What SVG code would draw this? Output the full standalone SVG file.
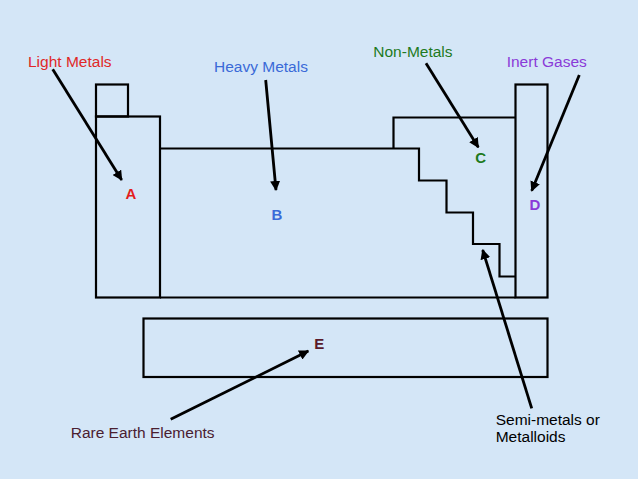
<svg xmlns="http://www.w3.org/2000/svg" width="638" height="479" viewBox="0 0 638 479">
<defs>
<marker id="ah" viewBox="0 0 10 10" refX="9" refY="5" markerWidth="3.6" markerHeight="3.6" orient="auto" markerUnits="strokeWidth">
<path d="M0,0 L10,5 L0,10 z" fill="#000"/>
</marker>
</defs>
<style>
.box{fill:none;stroke:#000;stroke-width:2.2}
.arr{stroke:#000;stroke-width:2.8;fill:none;marker-end:url(#ah)}
text{font-family:"Liberation Sans",Arial,sans-serif;font-size:15.5px}
.let{font-weight:bold;font-size:15px;text-anchor:middle}
</style>
<rect width="638" height="479" fill="#d4e6f7"/>
<g id="table">
<rect class="box" x="96" y="84.5" width="32" height="32"/>
<rect class="box" x="96" y="116.5" width="64" height="181"/>
<path class="box" d="M160,148.5 H419 V180.5 H446.5 V212.5 H473 V244 H499.5 V276.5 H515.5"/>
<path class="box" d="M393.5,148.5 V117.5 H515.5"/>
<rect class="box" x="515.5" y="84.5" width="32" height="213"/>
<line class="box" x1="160" y1="297.5" x2="515.5" y2="297.5"/>
</g>
<g id="lanthanides">
<rect class="box" x="143.5" y="318.5" width="404" height="58.5"/>
</g>
<g id="connectors">
<line class="arr" x1="52.7" y1="69.3" x2="121.7" y2="180"/>
<line class="arr" x1="265.7" y1="80" x2="276" y2="190"/>
<line class="arr" x1="426" y1="63.3" x2="478.3" y2="147.3"/>
<line class="arr" x1="579.3" y1="75" x2="531.7" y2="190.7"/>
<line class="arr" x1="531.7" y1="408.3" x2="482.7" y2="250"/>
<line class="arr" x1="170.7" y1="419.3" x2="308.3" y2="351"/>
</g>
<g id="labels">
<text x="28" y="67.3" fill="#e02828">Light Metals</text>
<text x="214" y="72.3" fill="#3a6ad8">Heavy Metals</text>
<text x="373.3" y="56.7" fill="#1e7a1e">Non-Metals</text>
<text x="506.7" y="66.7" fill="#8a3ad8">Inert Gases</text>
<text x="70.7" y="438.3" fill="#4a2030">Rare Earth Elements</text>
<text x="495.7" y="425" fill="#000">Semi-metals or</text>
<text x="495.7" y="441.7" fill="#000">Metalloids</text>
</g>
<g id="letters">
<text class="let" x="130.8" y="199.3" fill="#e31d1d">A</text>
<text class="let" x="276.8" y="220" fill="#3a6ad8">B</text>
<text class="let" x="480.7" y="162.7" fill="#1e7a1e">C</text>
<text class="let" x="535" y="210" fill="#8a3ad8">D</text>
<text class="let" x="319.2" y="349" fill="#5a1a2a">E</text>
</g>
</svg>
